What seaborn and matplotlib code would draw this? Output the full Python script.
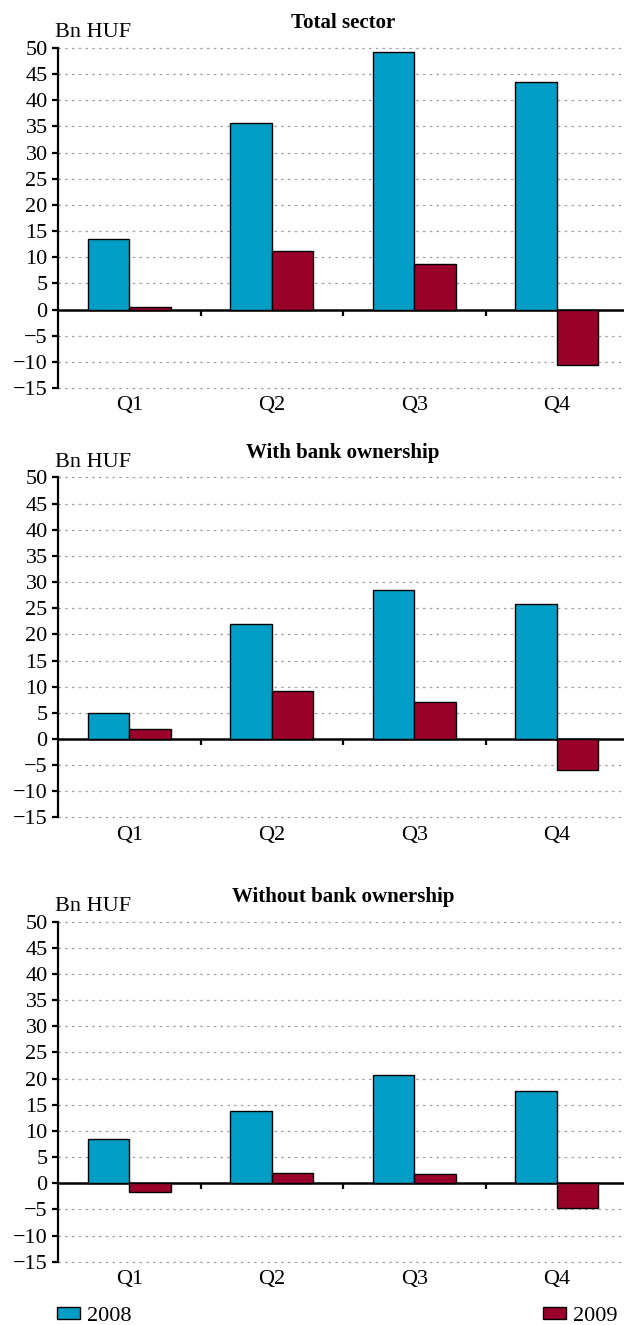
import pandas as pd
import matplotlib.pyplot as plt
import seaborn as sns

# ================= DATA =================
quarters = ["Q1", "Q2", "Q3", "Q4"]
years = ["2008", "2009"]

total_2008 = [13.5, 35.6, 49.2, 43.5]
total_2009 = [0.4, 11.1, 8.8, -10.6]

bank_2008 = [5.0, 21.9, 28.5, 25.9]
bank_2009 = [2.0, 9.1, 7.0, -6.0]

nobank_2008 = [8.4, 13.8, 20.7, 17.6]
nobank_2009 = [-1.6, 2.0, 1.8, -4.8]

titles = ["Total sector", "With bank ownership", "Without bank ownership"]
panels = [(total_2008, total_2009), (bank_2008, bank_2009), (nobank_2008, nobank_2009)]

y_ticks = list(range(-15, 55, 5))
colors = ["#009DC7", "#99002A"]

# ================= STYLE =================
sns.set_theme(style="white")
plt.rcParams["font.family"] = ["Liberation Serif", "DejaVu Serif"]
plt.rcParams["axes.unicode_minus"] = True
plt.rcParams["text.color"] = "black"
plt.rcParams["xtick.color"] = "black"
plt.rcParams["ytick.color"] = "black"

fig = plt.figure(figsize=(6.24, 13.25), dpi=100)

# axes positions (left, bottom, width, height) in figure fraction
left, width = 58 / 624, 570 / 624
bottoms = [937 / 1325, 507.5 / 1325, 63.3 / 1325]
height = 340 / 1325

handles = None
for i, (title, (v08, v09)) in enumerate(zip(titles, panels)):
    ax = fig.add_axes([left, bottoms[i], width, height])
    df = pd.DataFrame({
        "quarter": quarters * 2,
        "year": [years[0]] * 4 + [years[1]] * 4,
        "value": v08 + v09,
    })
    sns.barplot(data=df, x="quarter", y="value", hue="year", palette=colors,
                width=0.58, saturation=1, edgecolor="black", linewidth=1,
                ax=ax, zorder=3)
    if handles is None:
        handles = ax.get_legend().legend_handles
    ax.get_legend().remove()

    ax.set_xlim(-0.5, 3.5)
    ax.set_ylim(-15, 50)
    ax.set_yticks(y_ticks)
    ax.set_xlabel("")
    ax.set_ylabel("")

    # dotted grid
    for yv in y_ticks:
        if yv != 0:
            ax.axhline(yv, color="#a0a0a0", lw=0.9, ls=(0, (2.0, 3.4)),
                       zorder=1, clip_on=False)

    for s in ["top", "right", "bottom"]:
        ax.spines[s].set_visible(False)
    ax.spines["left"].set_color("black")
    ax.spines["left"].set_linewidth(1.6)
    ax.spines["left"].set_zorder(5)

    ax.tick_params(axis="y", which="major", direction="out", length=4.5, width=1.6,
                   color="black", pad=3, labelsize=16, left=True)
    ax.tick_params(axis="x", which="major", length=0, pad=6, labelsize=16)

    # zero line with category boundary ticks
    zero_frac = (0 - (-15)) / (50 - (-15))
    sec = ax.secondary_xaxis(zero_frac)
    sec.set_xticks([0.5, 1.5, 2.5])
    sec.set_xticklabels([])
    sec.tick_params(direction="out", length=4, width=1.6, color="black")
    sec.spines["bottom"].set_linewidth(1.8)
    sec.spines["bottom"].set_color("black")

    ax.text(1.5, 1.073, title, transform=ax.get_xaxis_transform(), ha="center",
            va="center", fontsize=15, fontweight="bold")
    ax.text(-0.006, 1.045, "Bn HUF", transform=ax.transAxes, ha="left",
            va="center", fontsize=16)

fig.legend(handles, years, loc="center left", bbox_to_anchor=(57 / 624, 8.3 / 1325),
           ncol=2, frameon=False, fontsize=16, columnspacing=18.5,
           handlelength=1.05, handleheight=0.45, handletextpad=0.3,
           borderaxespad=0, borderpad=0)

plt.savefig("out.png", dpi=100)
plt.close()
